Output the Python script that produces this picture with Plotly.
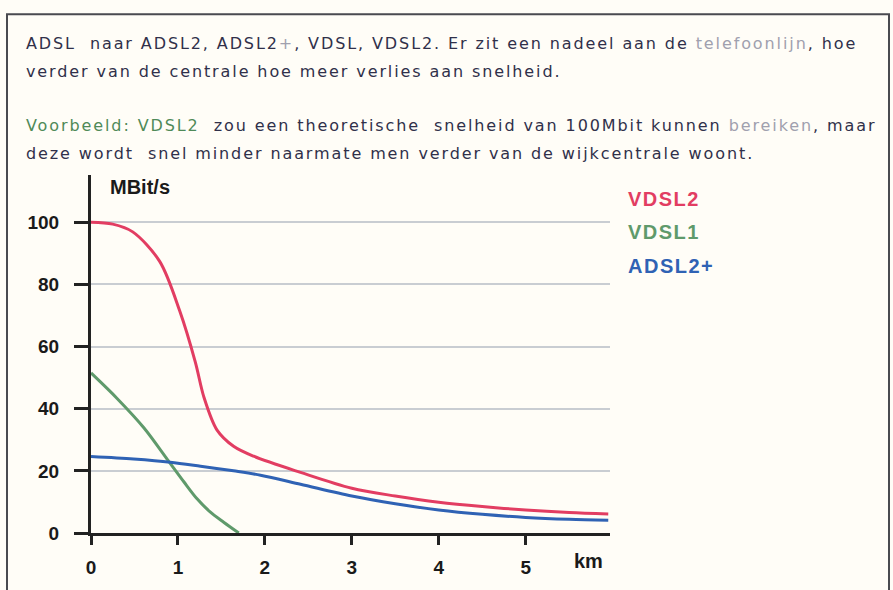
import plotly.graph_objects as go

# Data
vdsl2_km = [0, 0.25, 0.48, 0.79, 1.02, 1.2, 1.3, 1.45, 1.64, 1.87, 2.41, 3.0, 3.5, 4.0, 4.5, 5.0, 5.5, 5.95]
vdsl2_mbit = [100, 99.4, 96.9, 87.4, 71.5, 55.0, 43.6, 33.1, 27.9, 24.7, 19.5, 14.4, 11.9, 9.9, 8.5, 7.4, 6.6, 6.1]

vdsl1_km = [0, 0.3, 0.61, 0.875, 1.07, 1.22, 1.37, 1.53, 1.7]
vdsl1_mbit = [51.5, 43.3, 33.8, 23.8, 16.4, 11.0, 6.8, 3.4, 0]

adsl_km = [0, 0.49, 0.91, 1.26, 1.64, 1.95, 2.41, 3.0, 3.5, 4.0, 4.5, 5.0, 5.5, 5.95]
adsl_mbit = [24.6, 23.8, 22.8, 21.5, 20.0, 18.6, 15.7, 11.9, 9.4, 7.4, 6.0, 5.0, 4.4, 4.1]

x_ticks = [0, 1, 2, 3, 4, 5]
y_ticks = [0, 20, 40, 60, 80, 100]

series_names = ["VDSL2", "VDSL1", "ADSL2+"]
series_colors = ["#e23d62", "#5f9a6b", "#2f62b4"]

W, H = 893, 590
L, R, T, B = 91, 610, 175, 538  # plot area in pixels


def px(xp):
    return (xp - L) / (R - L)


def py(yp):
    return (B - yp) / (B - T)


fig = go.Figure()
for xs, ys, name, col in zip([vdsl2_km, vdsl1_km, adsl_km],
                             [vdsl2_mbit, vdsl1_mbit, adsl_mbit],
                             series_names, series_colors):
    fig.add_trace(go.Scatter(x=xs, y=ys, mode="lines", name=name,
                             line=dict(color=col, width=3, shape="spline", smoothing=0.9),
                             showlegend=False, cliponaxis=False))

bold = dict(family="Liberation Sans, Arial", size=19, color="#1a1a1a", weight="bold")

fig.update_layout(
    width=W, height=H,
    margin=dict(l=L, r=W - R, t=T, b=H - B, pad=0),
    paper_bgcolor="#fffdf7", plot_bgcolor="#fffdf7",
    xaxis=dict(range=[0, 5.97], tickvals=x_ticks, showgrid=False, zeroline=False,
               showline=True, linecolor="#222", linewidth=3,
               ticks="outside", ticklen=9, tickwidth=3, tickcolor="#222",
               ticklabelstandoff=6, tickfont=bold),
    yaxis=dict(range=[0, 115.2], tickvals=y_ticks, showgrid=True, gridcolor="#c9cdd2",
               gridwidth=2, zeroline=False,
               showline=True, linecolor="#222", linewidth=3,
               ticks="outside", ticklen=14, tickwidth=3, tickcolor="#222",
               ticklabelstandoff=11, tickfont=bold),
)

# frame around the scanned excerpt
fig.add_shape(type="rect", xref="paper", yref="paper",
              x0=px(7), x1=px(889), y0=py(600), y1=py(12),
              line=dict(color="#4a4a50", width=2))

body = dict(family="DejaVu Sans, Verdana", size=16, color="#30304a")
light = "#a0a0ae"
green = "#4f8a58"
sp = "letter-spacing:1.9px"
lines = [
    (42, f"<span style='{sp}'>ADSL  naar ADSL2, ADSL2</span><span style='{sp};color:{light}'>+</span>"
         f"<span style='{sp}'>, VDSL, VDSL2. Er zit een nadeel aan de </span>"
         f"<span style='{sp};color:{light}'>telefoonlijn</span><span style='{sp}'>, hoe</span>"),
    (70, f"<span style='{sp}'>verder van de centrale hoe meer verlies aan snelheid.</span>"),
    (125, f"<span style='{sp};color:{green}'>Voorbeeld: VDSL2</span>"
          f"<span style='{sp}'>  zou een theoretische  snelheid van 100Mbit kunnen </span>"
          f"<span style='{sp};color:{light}'>bereiken</span><span style='{sp}'>, maar</span>"),
    (153, f"<span style='{sp}'>deze wordt  snel minder naarmate men verder van de wijkcentrale woont.</span>"),
]
for ypix, txt in lines:
    fig.add_annotation(text=txt, xref="paper", yref="paper", x=px(24), y=py(ypix),
                       xanchor="left", yanchor="middle", showarrow=False, font=body)

fig.add_annotation(text="MBit/s", xref="paper", yref="paper", x=px(108), y=py(187),
                   xanchor="left", yanchor="middle", showarrow=False,
                   font=dict(bold, size=20))
fig.add_annotation(text="km", xref="paper", yref="paper", x=px(572), y=py(566),
                   xanchor="left", yanchor="middle", showarrow=False,
                   font=dict(bold, size=20))

for i, (name, col) in enumerate(zip(series_names, series_colors)):
    fig.add_annotation(text=f"<span style='letter-spacing:1.5px'>{name}</span>",
                       xref="paper", yref="paper", x=px(626), y=py(199 + 34 * i),
                       xanchor="left", yanchor="middle", showarrow=False,
                       font=dict(family="Liberation Sans, Arial", size=20, color=col, weight="bold"))

fig.write_html("out.html", config={"displayModeBar": False},
               post_script="document.body.style.margin='0';")
